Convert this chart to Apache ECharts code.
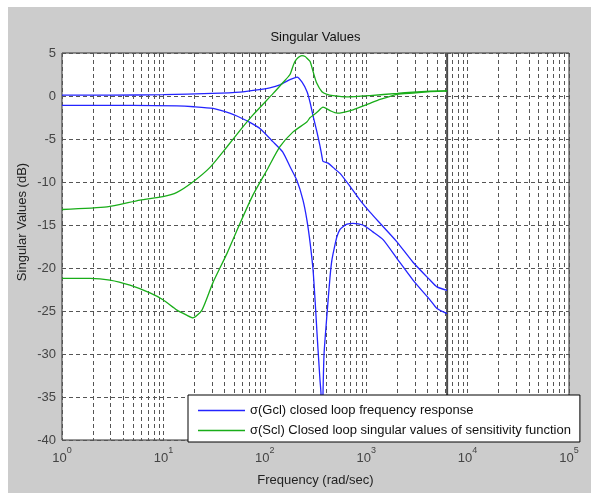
<!DOCTYPE html>
<html><head><meta charset="utf-8">
<script src="https://cdn.jsdelivr.net/npm/echarts@6/dist/echarts.min.js"></script>
<style>
html,body{margin:0;padding:0;background:#fff;}
#bg{position:absolute;left:8px;top:7px;width:583px;height:486px;background:#cccccc;}
#chart{position:absolute;left:0;top:0;width:591px;height:493px;}
</style></head><body>
<div id="bg"></div><div id="chart"></div>
<script>
// ---- data ----
const legendNames = ['σ(Gcl) closed loop frequency response', 'σ(Scl) Closed loop singular values of sensitivity function'];

const gclUpperFreq = [1, 3, 10, 30, 57, 84, 112, 141, 177, 208, 233, 261, 279, 299, 327, 350, 367, 375, 421, 471, 552, 692, 868, 1090, 1370, 1990, 2880, 4256, 4990, 6283];
const gclUpperDb   = [0.1, 0.1, 0.15, 0.3, 0.45, 0.7, 0.95, 1.3, 1.9, 2.2, 1.6, 0.5, -0.7, -2.3, -4.2, -5.8, -7.1, -7.6, -7.8, -8.3, -9.0, -10.5, -12.1, -13.5, -14.8, -16.9, -19.3, -21.4, -22.2, -22.6];

const gclLowerFreq = [1, 5, 13.6, 20, 30.8, 45, 57, 72, 90, 120, 150, 177, 207, 238, 260, 280, 299, 313, 327, 335, 350, 358, 367, 375, 384, 411, 440, 460, 492, 516, 552, 590, 647, 741, 927, 1164, 1466, 2013, 2894, 4256, 4990, 6283];
const gclLowerDb   = [-1.1, -1.1, -1.15, -1.25, -1.45, -2.0, -2.5, -3.1, -3.8, -5.3, -6.5, -8.2, -9.8, -12.1, -14.4, -17.1, -20.2, -23.7, -27.5, -29.5, -33.0, -34.5, -39.0, -34.5, -30.0, -25.3, -21.0, -19.0, -17.3, -16.3, -15.5, -15.2, -14.9, -14.8, -15.0, -15.8, -16.7, -18.9, -21.4, -23.7, -24.7, -25.3];

const sclUpperFreq = [1, 2.78, 5.87, 9.9, 13.6, 19.5, 28.8, 42.4, 57, 76.5, 121, 152, 177, 190, 198, 215, 232, 250, 265, 280, 300, 325, 366, 410, 470, 647, 1090, 2013, 2894, 4256, 6283];
const sclUpperDb   = [-13.2, -12.9, -12.1, -11.7, -11.2, -10.0, -8.3, -5.9, -4.0, -2.2, 0.3, 1.6, 2.5, 3.5, 4.0, 4.5, 4.7, 4.6, 4.3, 4.0, 2.8, 1.5, 0.5, 0.2, 0.05, -0.1, 0.05, 0.3, 0.45, 0.55, 0.6];

const sclLowerFreq = [1, 1.89, 2.97, 4.68, 7.37, 9.9, 13.6, 17.1, 19.5, 24, 30.8, 42.4, 57, 76.5, 105, 141, 189, 261, 280, 327, 375, 440, 516, 741, 1090, 1370, 2013, 2894, 4256, 6283];
const sclLowerDb   = [-21.2, -21.2, -21.4, -22.0, -22.9, -23.7, -24.9, -25.5, -25.8, -24.9, -21.7, -18.3, -14.8, -11.5, -8.6, -5.9, -4.2, -3.0, -2.5, -1.9, -1.3, -1.7, -2.0, -1.6, -0.85, -0.4, 0.2, 0.35, 0.5, 0.6];

const nyquistFreq = 6283;
const decades = [1, 10, 100, 1000, 10000];
const minorMultipliers = [2, 3, 4, 5, 6, 7, 8, 9];
const yMin = -40, yMax = 5, yStep = 5;
const xMin = 1, xMax = 100000;
const titleText = 'Singular Values';
const xAxisName = 'Frequency (rad/sec)';
const yAxisName = 'Singular Values (dB)';

// ---- build ----
const FONT = '"Liberation Sans", Arial, Helvetica, sans-serif';
const zip = (f, d) => f.map((v, i) => [v, d[i]]);
const minorGrid = [];
decades.forEach(d => minorMultipliers.forEach(m => minorGrid.push([m * d, 0])));

const BLUE = '#2424ff', GREEN = '#19ad19';
const lineCommon = { type: 'line', showSymbol: false, symbol: 'none', smooth: 0.2, z: 3 };

const chart = echarts.init(document.getElementById('chart'), null, { renderer: 'canvas' });
chart.setOption({
  backgroundColor: 'transparent',
  animation: false,
  textStyle: { fontFamily: FONT },
  graphic: [{
    type: 'text', x: 315.5, y: 37, z: 10,
    style: { text: titleText, fontSize: 13, fontFamily: FONT, fill: '#111', align: 'center', verticalAlign: 'middle' }
  }, {
    type: 'text', x: 22, y: 222, rotation: Math.PI / 2, z: 10,
    style: { text: yAxisName, fontSize: 13, fontFamily: FONT, fill: '#222', align: 'center', verticalAlign: 'middle' }
  }],
  grid: { left: 62, right: 22, top: 53, bottom: 53, show: true, backgroundColor: '#ffffff', borderColor: '#333', borderWidth: 1 },
  legend: {
    data: legendNames, orient: 'vertical', left: 188, top: 395,
    icon: 'rect', itemWidth: 47, itemHeight: 1.6, itemGap: 5, padding: [8, 9, 4, 10],
    backgroundColor: '#ffffff', borderColor: '#000', borderWidth: 1, borderRadius: 0,
    textStyle: { fontSize: 13, color: '#111', fontFamily: FONT, lineHeight: 15 },
    selectedMode: false, z: 20
  },
  xAxis: {
    type: 'log', logBase: 10, min: xMin, max: xMax,
    axisLine: { show: false }, axisTick: { show: false },
    splitLine: { show: true, lineStyle: { color: '#555', type: [4, 3], width: 1 } },
    axisLabel: {
      margin: 6,
      formatter: v => '{b|10}{e|' + Math.round(Math.log10(v)) + '}',
      rich: {
        b: { fontSize: 13, color: '#444', fontFamily: FONT, verticalAlign: 'bottom', lineHeight: 19 },
        e: { fontSize: 9, color: '#444', fontFamily: FONT, verticalAlign: 'top', lineHeight: 19 }
      }
    },
    name: xAxisName, nameLocation: 'middle', nameGap: 34,
    nameTextStyle: { fontSize: 13, color: '#222', fontFamily: FONT }
  },
  yAxis: {
    type: 'value', min: yMin, max: yMax, interval: yStep,
    axisLine: { show: false }, axisTick: { show: false },
    splitLine: { show: true, lineStyle: { color: '#555', type: [4, 3], width: 1 } },
    axisLabel: { margin: 6, fontSize: 13, color: '#444', fontFamily: FONT }
  },
  series: [
    {
      type: 'custom', name: 'minorGrid', z: 1, silent: true,
      data: minorGrid, encode: { x: 0, y: 1 }, clip: true,
      renderItem: (params, api) => {
        const p1 = api.coord([api.value(0), yMax]);
        const p2 = api.coord([api.value(0), yMin]);
        const x = Math.round(p1[0]) + 0.5;
        return { type: 'line', shape: { x1: x, y1: p1[1], x2: x, y2: p2[1] },
          style: { stroke: '#555', lineWidth: 1, lineDash: [4, 3] } };
      }
    },
    { type: 'line', name: 'nyquist', data: [[nyquistFreq, yMax], [nyquistFreq, yMin]], symbol: 'none',
      lineStyle: { color: '#4a4a4a', width: 2 }, z: 2, silent: true },
    Object.assign({}, lineCommon, { name: legendNames[0], data: zip(gclUpperFreq, gclUpperDb), color: BLUE, lineStyle: { color: BLUE, width: 1.3 } }),
    Object.assign({}, lineCommon, { name: legendNames[0], data: zip(gclLowerFreq, gclLowerDb), color: BLUE, lineStyle: { color: BLUE, width: 1.3 } }),
    Object.assign({}, lineCommon, { name: legendNames[1], data: zip(sclUpperFreq, sclUpperDb), color: GREEN, lineStyle: { color: GREEN, width: 1.3 } }),
    Object.assign({}, lineCommon, { name: legendNames[1], data: zip(sclLowerFreq, sclLowerDb), color: GREEN, lineStyle: { color: GREEN, width: 1.3 } })
  ]
});
</script>
</body></html>
